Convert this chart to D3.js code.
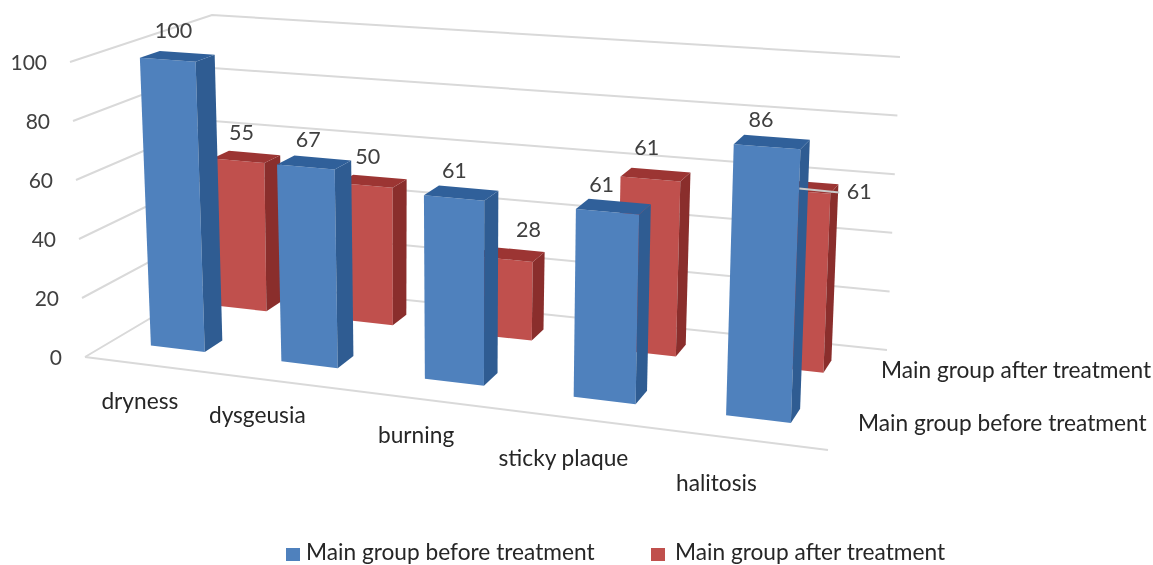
<!DOCTYPE html>
<html>
<head>
<meta charset="utf-8">
<script src="https://cdn.jsdelivr.net/npm/d3@7"></script>
<style>
  html, body { margin: 0; padding: 0; background: #fff; overflow: hidden; }
  text { font-family: Lato, "Open Sans", sans-serif; }
  svg { filter: blur(0.4px); }
</style>
</head>
<body>
<div id="chart"></div>
<script>
// Data
const categories = ["dryness", "dysgeusia", "burning", "sticky plaque", "halitosis"];
const seriesNames = ["Main group before treatment", "Main group after treatment"];
const beforeValues = [100, 67, 61, 61, 86];
const afterValues = [55, 50, 28, 61, 61];
const valueTicks = [0, 20, 40, 60, 80, 100];

// Hand placed labels in the original, [dx, dy] from the default spot
const beforeNudge = [[-4, -3], [-6, 0], [-7, 0], [-12, 0], [-11, 0]];
const afterNudge = [[-5, -2], [-5, -2], [18, -2], [-9, -4], [56, 27]];
const categoryNudge = [[10, 0], [-7, -3], [4, -2], [-2, 2], [-6, 7]];

const width = 1153;
const height = 565;

// Corners of the 3D box as seen on the page
const floorFL = [85, 357], floorFR = [828, 450], floorBL = [215, 280], floorBR = [887, 350];
const topFL = [70, 62], topFR = [841, 118], topBL = [212, 15], topBR = [900, 57];

const svg = d3.select("#chart")
    .append("svg")
    .attr("width", width)
    .attr("height", height)
    .style("display", "block");

// Scales: along the categories (stretched a bit by the perspective), depth and value
const barStart = d3.scalePow().exponent(1.07).domain([0, 4]).range([0.053, 0.843]);
const barEnd = d3.scalePow().exponent(1.07).domain([0, 4]).range([0.127, 0.932]);
const depthScale = d3.scaleOrdinal().domain([0, 1]).range([[0.21, 0.355], [0.72, 0.845]]);
const valueScale = d3.scaleLinear().domain([0, 100]).range([0, 1]);
// the bars come out a touch shorter than the walls
const rowHeight = [0.99, 0.972];

function mix(a, b, t) {
    return [a[0] + (b[0] - a[0]) * t, a[1] + (b[1] - a[1]) * t];
}

// u along categories, w into the page, v up
function project(u, w, value) {
    const v = valueScale(value);
    const floor = mix(mix(floorFL, floorFR, u), mix(floorBL, floorBR, u), w);
    const top = mix(mix(topFL, topFR, u), mix(topBL, topBR, u), w);
    return mix(floor, top, v);
}

const line = d3.line();
const path = pts => line(pts) + "Z";

// Gridlines on the walls
const grid = svg.append("g")
    .attr("fill", "none")
    .attr("stroke", "#d9d9d9")
    .attr("stroke-width", 2);

valueTicks.forEach(t => {
    grid.append("path").attr("d", line([project(0, 0, t), project(0, 1, t), project(1, 1, t)]));
});
grid.append("path").attr("d", line([project(0, 0, 0), project(1, 0, 0)]));

// Value labels
svg.append("g").selectAll("text")
    .data(valueTicks)
    .enter()
    .append("text")
    .attr("x", d => project(0, 0, d)[0] - 23)
    .attr("y", d => project(0, 0, d)[1] + 8)
    .attr("text-anchor", "end")
    .attr("font-size", 21)
    .attr("fill", "#404040")
    .text(d => d);

const faceColors = [
    { front: "#4f81bd", side: "#2f5c92", top: "#30609a" },
    { front: "#c0504d", side: "#8a2e2c", top: "#9c3533" }
];

function drawBars(values, s) {
    const [w0, w1] = depthScale(s);
    const colors = faceColors[s];
    const bars = svg.append("g").selectAll("g")
        .data(values)
        .enter()
        .append("g");

    bars.append("path")
        .attr("fill", colors.front)
        .attr("d", (d, i) => {
            const u0 = barStart(i), u1 = barEnd(i), h = d * rowHeight[s];
            return path([project(u0, w0, 0), project(u1, w0, 0), project(u1, w0, h), project(u0, w0, h)]);
        });
    bars.append("path")
        .attr("fill", colors.side)
        .attr("d", (d, i) => {
            const u1 = barEnd(i), h = d * rowHeight[s];
            return path([project(u1, w0, 0), project(u1, w1, 0), project(u1, w1, h), project(u1, w0, h)]);
        });
    bars.append("path")
        .attr("fill", colors.top)
        .attr("d", (d, i) => {
            const u0 = barStart(i), u1 = barEnd(i), h = d * rowHeight[s];
            return path([project(u0, w0, h), project(u1, w0, h), project(u1, w1, h), project(u0, w1, h)]);
        });
}

// back row first so the front row covers it
drawBars(afterValues, 1);
drawBars(beforeValues, 0);

const barMiddle = i => (barStart(i) + barEnd(i)) / 2;

// Data labels sit above the bar tops
function labelSpot(d, i, s, nudge) {
    const [w0, w1] = depthScale(s);
    const p = project(barMiddle(i), (w0 + w1) / 2, d * rowHeight[s]);
    return [p[0] + nudge[i][0], p[1] - 15 + nudge[i][1]];
}

function drawDataLabels(values, s, nudge) {
    svg.append("g").selectAll("text")
        .data(values)
        .enter()
        .append("text")
        .attr("x", (d, i) => labelSpot(d, i, s, nudge)[0])
        .attr("y", (d, i) => labelSpot(d, i, s, nudge)[1])
        .attr("text-anchor", "middle")
        .attr("font-size", 21.5)
        .attr("fill", "#404040")
        .text(d => d);
}
drawDataLabels(afterValues, 1, afterNudge);
drawDataLabels(beforeValues, 0, beforeNudge);

// Leader line of the last label, it runs over the bars
const lastSpot = labelSpot(afterValues[4], 4, 1, afterNudge);
svg.append("path")
    .attr("fill", "none")
    .attr("stroke", "#c9c9c9")
    .attr("stroke-width", 2)
    .attr("d", line([[lastSpot[0] - 60, lastSpot[1] - 10], [lastSpot[0] - 20, lastSpot[1] - 6]]));

// Category labels
svg.append("g").selectAll("text")
    .data(categories)
    .enter()
    .append("text")
    .attr("x", (d, i) => project(barMiddle(i), 0, 0)[0] - 22 + categoryNudge[i][0])
    .attr("y", (d, i) => project(barMiddle(i), 0, 0)[1] + 44 + categoryNudge[i][1])
    .attr("text-anchor", "middle")
    .attr("font-size", 22.7)
    .attr("fill", "#262626")
    .text(d => d);

// Series names on the depth axis
svg.append("text").attr("x", 858).attr("y", 431).attr("font-size", 22.7).attr("fill", "#262626").text(seriesNames[0]);
svg.append("text").attr("x", 881).attr("y", 378).attr("font-size", 22.7).attr("fill", "#262626").text(seriesNames[1]);

// Legend
const legend = svg.append("g").attr("transform", "translate(0, 548)");
const legendX = [286, 651];
const legendItems = legend.selectAll("g")
    .data(seriesNames)
    .enter()
    .append("g")
    .attr("transform", (d, i) => `translate(${legendX[i]}, 0)`);
legendItems.append("rect")
    .attr("width", 14)
    .attr("height", 13)
    .attr("fill", (d, i) => faceColors[i].front);
legendItems.append("text")
    .attr("x", (d, i) => i === 0 ? 20 : 24)
    .attr("y", 11.5)
    .attr("font-size", 22.7)
    .attr("fill", "#262626")
    .text(d => d);
</script>
</body>
</html>
